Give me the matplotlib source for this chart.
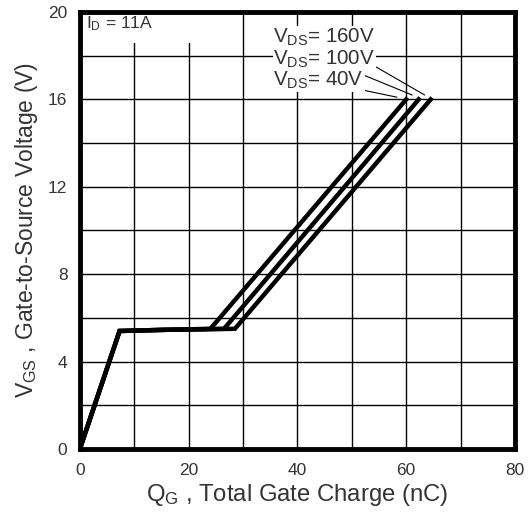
import matplotlib
matplotlib.use("Agg")
import matplotlib.pyplot as plt
from matplotlib.patches import Rectangle
from matplotlib.ticker import MultipleLocator

plt.rcParams["font.family"] = ["Liberation Sans", "DejaVu Sans"]
plt.rcParams["mathtext.default"] = "regular"

# gate charge curves, one per drain-source voltage
vds_labels = ["V$_{DS}$= 160V", "V$_{DS}$= 100V", "V$_{DS}$= 40V"]
qg_160 = [0, 7.3, 15, 28.5, 64.5]
vgs_160 = [0, 5.4, 5.45, 5.5, 16]
qg_100 = [0, 7.3, 15, 26.5, 62.3]
vgs_100 = [0, 5.4, 5.45, 5.5, 16]
qg_40 = [0, 7.3, 15, 24, 60]
vgs_40 = [0, 5.4, 5.45, 5.5, 16]

# label text positions and where their leader lines touch the curves
label_xy = [(35.6, 18.85), (35.6, 17.85), (35.6, 16.85)]
leader_tip = [(63.4, 16.2), (61.1, 16.2), (58.3, 16.1)]

fig = plt.figure(figsize=(5.29, 5.13), dpi=100)
ax = fig.add_axes([0.151, 0.1248, 0.8225, 0.8518])

ax.set_xlim(0, 80)
ax.set_ylim(0, 20)
ax.xaxis.set_major_locator(MultipleLocator(20))
ax.yaxis.set_major_locator(MultipleLocator(4))
ax.xaxis.set_minor_locator(MultipleLocator(10))
ax.yaxis.set_minor_locator(MultipleLocator(2))
ax.grid(which="both", color="black", linewidth=1.0)
ax.set_axisbelow(True)
ax.tick_params(which="both", length=0, labelsize=12.5, labelcolor="#333333")
ax.tick_params(axis="x", pad=10)
ax.tick_params(axis="y", pad=9)
for s in ax.spines.values():
    s.set_linewidth(3.5)

for q, v in [(qg_160, vgs_160), (qg_100, vgs_100), (qg_40, vgs_40)]:
    ax.plot(q, v, color="black", linewidth=3.2, solid_joinstyle="miter", zorder=3)

# white patch behind the current label
ax.add_patch(Rectangle((0.004, 0.929), 0.275, 0.068, transform=ax.transAxes,
                       facecolor="white", edgecolor="none", zorder=2))
ax.text(1.2, 19.45, "I$_D$ = 11A", fontsize=12.5, color="#333333", va="center",
        zorder=4)

for lab, xy, tip in zip(vds_labels, label_xy, leader_tip):
    ax.annotate(lab, xy=tip, xytext=xy, fontsize=14.8, color="#333333",
                va="center", ha="left", zorder=4,
                bbox=dict(facecolor="white", edgecolor="none", pad=0.5),
                arrowprops=dict(arrowstyle="-", color="black", lw=0.8,
                                shrinkA=0, shrinkB=0))

ax.set_xlabel("Q$_G$ , Total Gate Charge (nC)", fontsize=17.2, color="#333333",
              labelpad=3)
ax.set_ylabel("V$_{GS}$ , Gate-to-Source Voltage (V)", fontsize=16.5,
              color="#333333", labelpad=6)

fig.savefig("out.png", dpi=100)
